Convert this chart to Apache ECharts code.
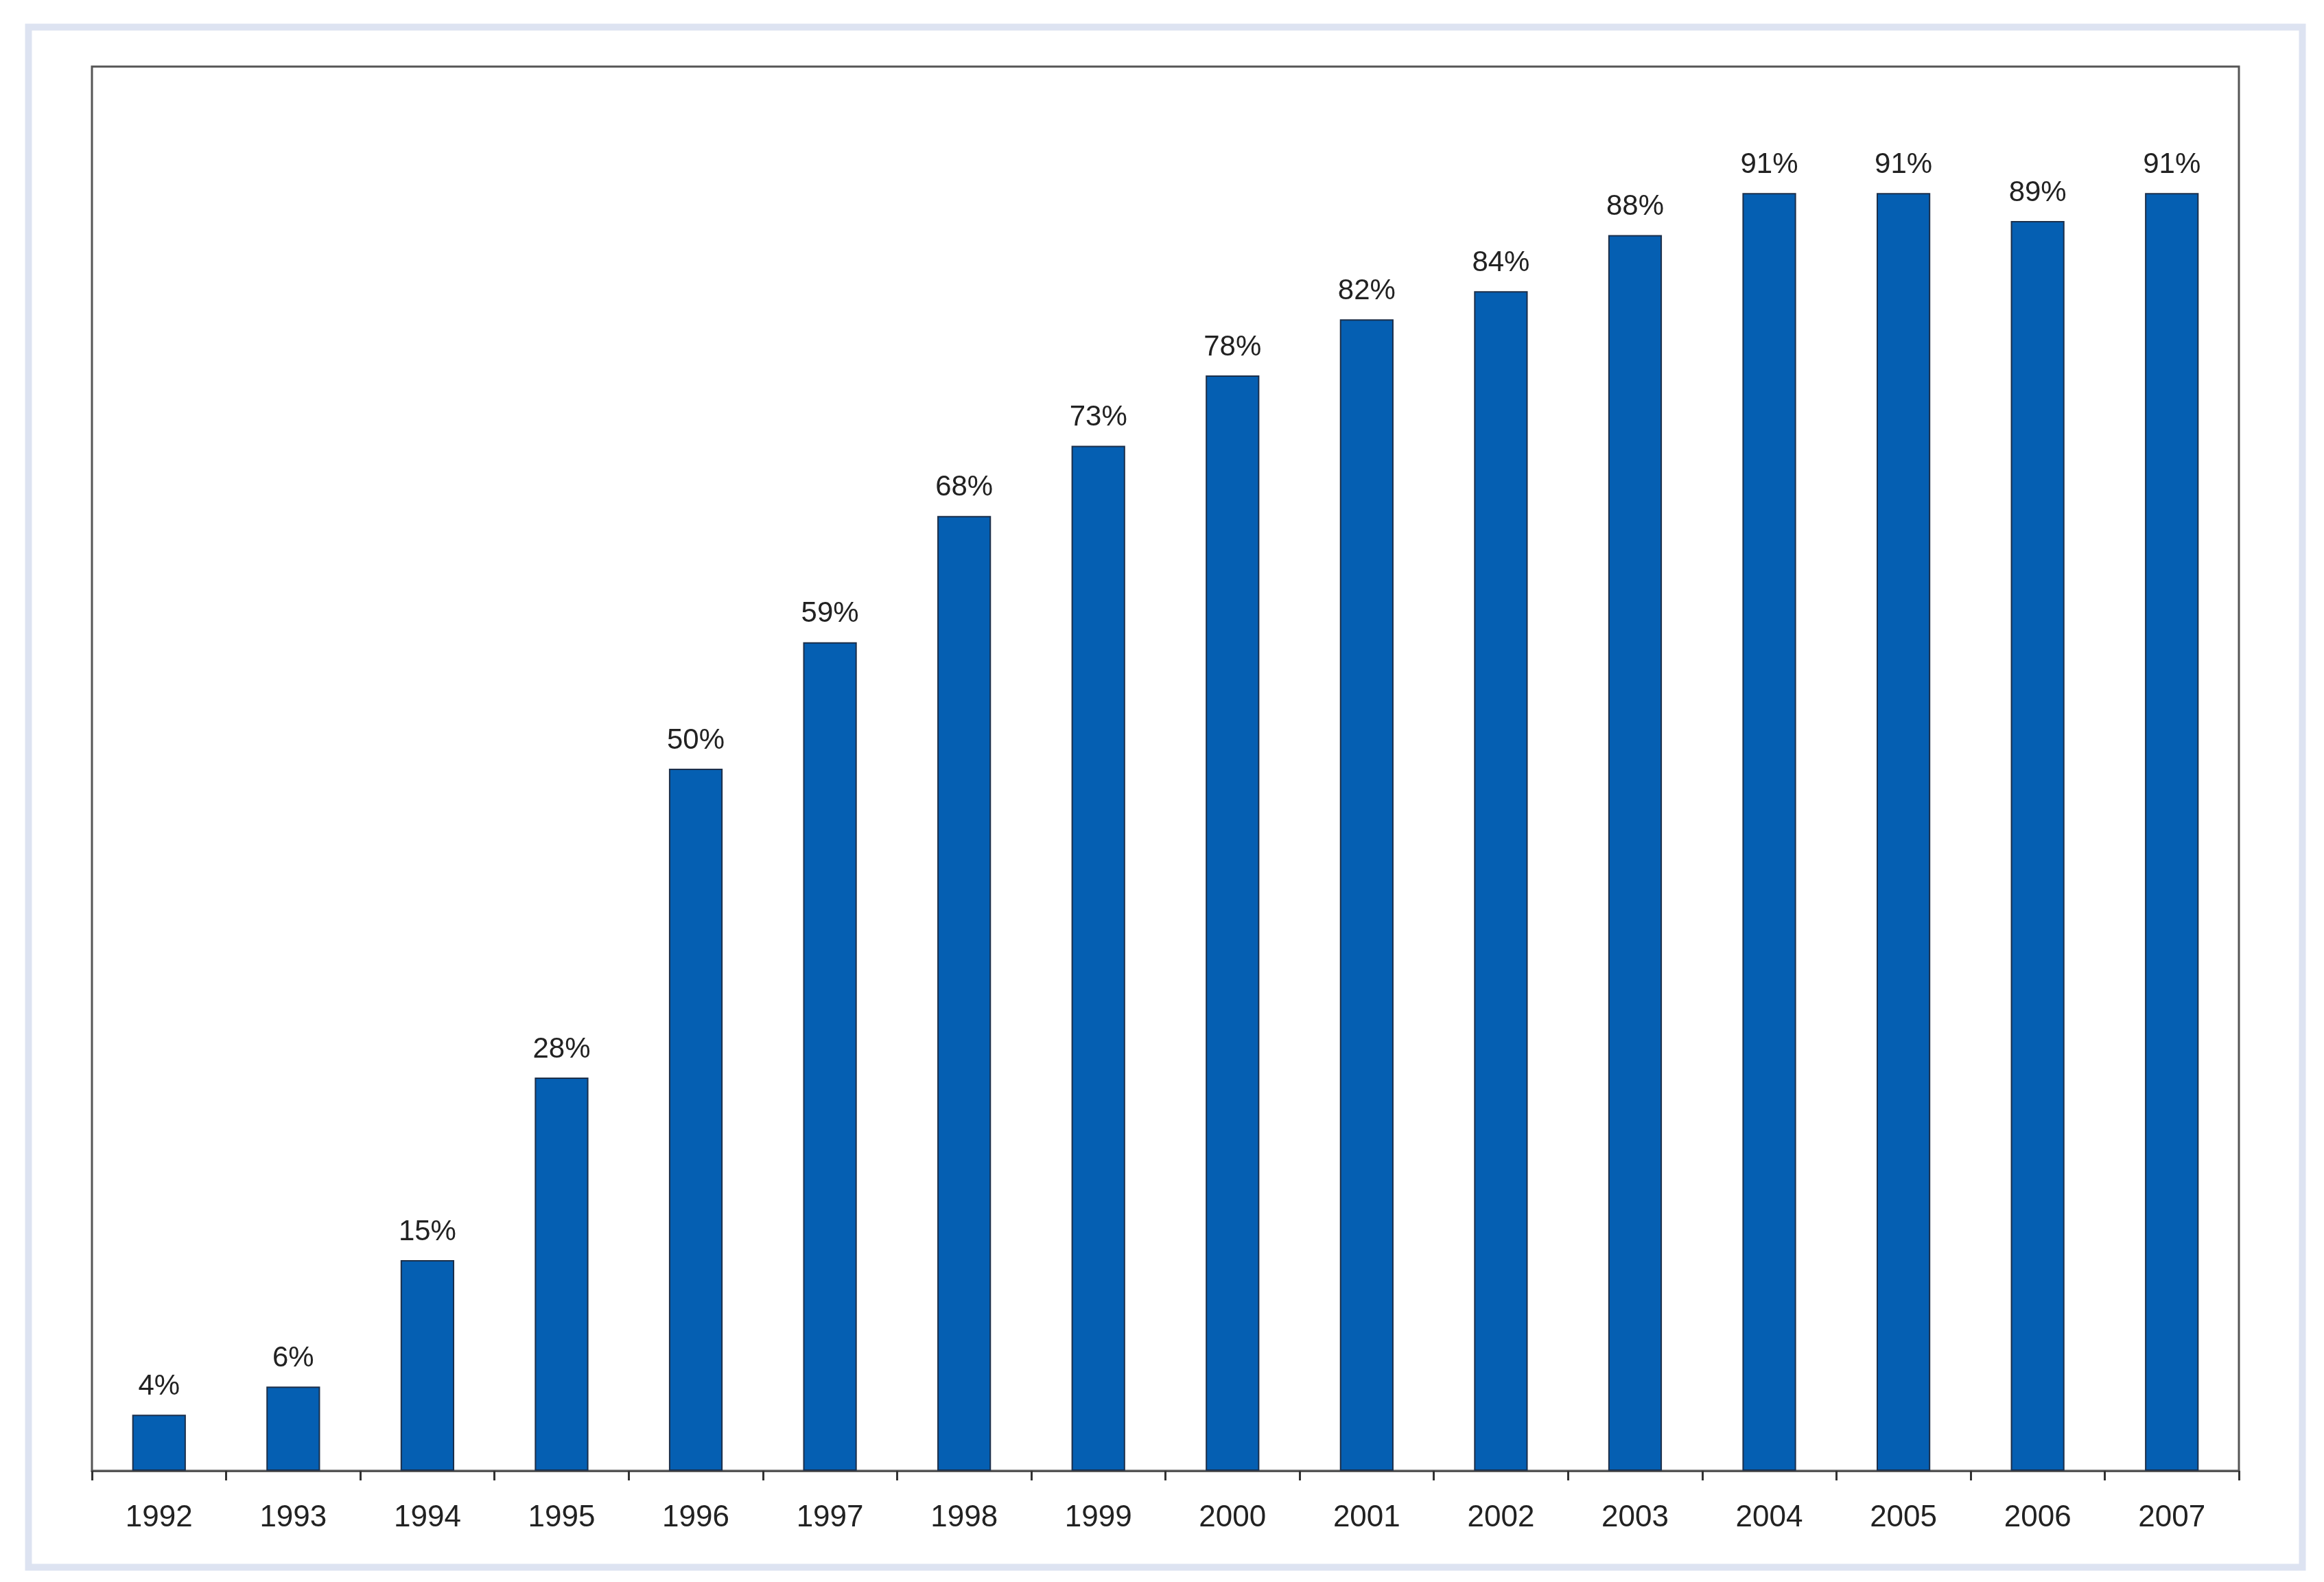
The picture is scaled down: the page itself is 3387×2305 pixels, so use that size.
<!DOCTYPE html>
<html>
<head>
<meta charset="utf-8">
<script src="https://cdn.jsdelivr.net/npm/echarts@6/dist/echarts.min.js"></script>
<style>
html,body{margin:0;padding:0;background:#ffffff;}
#chart{width:3387px;height:2305px;}
</style>
</head>
<body>
<div id="chart"></div>
<script>
const years = ['1992','1993','1994','1995','1996','1997','1998','1999','2000','2001','2002','2003','2004','2005','2006','2007'];
const shares = [4, 6, 15, 28, 50, 59, 68, 73, 78, 82, 84, 88, 91, 91, 89, 91];

const chart = echarts.init(document.getElementById('chart'), null, {renderer:'canvas'});
chart.setOption({
  backgroundColor: '#ffffff',
  animation: false,
  graphic: [{
    type: 'rect',
    shape: {x: 41.5, y: 39.5, width: 3314, height: 2244},
    style: {fill: 'none', stroke: '#dde3f1', lineWidth: 10},
    silent: true
  }],
  grid: {
    left: 134, right: 124, top: 97, bottom: 162,
    show: true, borderColor: '#555555', borderWidth: 3, backgroundColor: 'transparent'
  },
  xAxis: {
    type: 'category',
    data: years,
    boundaryGap: true,
    axisLine: {show: true, lineStyle: {color: '#555555', width: 3}},
    axisTick: {show: true, alignWithLabel: false, length: 14, lineStyle: {color: '#333333', width: 3}},
    axisLabel: {
      margin: 47,
      fontFamily: 'Liberation Sans, Arial, sans-serif',
      fontSize: 44,
      color: '#222222'
    },
    splitLine: {show: false}
  },
  yAxis: {
    type: 'value',
    min: 0, max: 100,
    axisLine: {show: false},
    axisTick: {show: false},
    axisLabel: {show: false},
    splitLine: {show: false}
  },
  series: [{
    type: 'bar',
    data: shares,
    barWidth: '40%',
    itemStyle: {color: '#055fb2', borderColor: '#1c2f4a', borderWidth: 2},
    label: {
      show: true,
      position: 'top',
      distance: 20,
      formatter: '{c}%',
      fontFamily: 'Liberation Sans, Arial, sans-serif',
      fontSize: 42,
      color: '#222222'
    }
  }]
});
</script>
</body>
</html>
